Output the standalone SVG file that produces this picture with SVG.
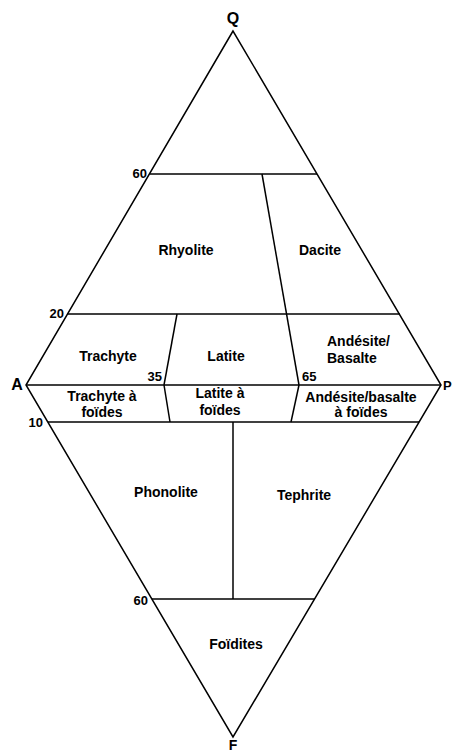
<svg xmlns="http://www.w3.org/2000/svg" width="452" height="753" viewBox="0 0 452 753">
<style>
.l{stroke:#000;stroke-width:1.5;fill:none}
.t{font-family:"Liberation Sans",Arial,sans-serif;font-weight:bold;font-size:14px;fill:#000;text-anchor:middle}
.n{font-family:"Liberation Sans",Arial,sans-serif;font-weight:bold;font-size:13px;fill:#000}
.v{font-family:"Liberation Sans",Arial,sans-serif;font-weight:bold;font-size:16px;fill:#000;text-anchor:middle}
.s{text-anchor:start}
.e{text-anchor:end}
</style>
<rect width="452" height="753" fill="#fff"/>
<g id="connectors">
<polygon class="l" points="233,31 26,385 233,737 441,385"/>
<line class="l" x1="26" y1="385" x2="441" y2="385"/>
<line class="l" x1="150" y1="174" x2="317" y2="174"/>
<line class="l" x1="67" y1="314" x2="400" y2="314"/>
<line class="l" x1="48" y1="422" x2="419" y2="422"/>
<line class="l" x1="152" y1="599" x2="315" y2="599"/>
<line class="l" x1="262" y1="174" x2="299" y2="385"/>
<line class="l" x1="299" y1="385" x2="291" y2="422"/>
<line class="l" x1="177" y1="314" x2="164" y2="385"/>
<line class="l" x1="164" y1="385" x2="170" y2="422"/>
<line class="l" x1="233" y1="422" x2="233" y2="599"/>
</g>
<g id="vertices">
<text class="v" x="233" y="24">Q</text>
<text class="v" x="17" y="390">A</text>
<text class="v s" x="443" y="390" style="font-size:13px">P</text>
<text class="v" x="233" y="750" style="font-size:14px">F</text>
</g>
<g id="ticks">
<text class="n e" x="147" y="178">60</text>
<text class="n e" x="64" y="318">20</text>
<text class="n e" x="162" y="381">35</text>
<text class="n" x="302" y="381">65</text>
<text class="n e" x="43" y="427">10</text>
<text class="n e" x="148" y="605">60</text>
</g>
<g id="rhyolite"><text class="t" x="186" y="255">Rhyolite</text></g>
<g id="dacite"><text class="t" x="320" y="255">Dacite</text></g>
<g id="trachyte"><text class="t" x="108" y="361">Trachyte</text></g>
<g id="latite"><text class="t" x="226" y="361">Latite</text></g>
<g id="andesite"><text class="t s" x="327" y="346">Andésite/</text><text class="t s" x="327" y="363">Basalte</text></g>
<g id="trachyte-foides"><text class="t" x="102" y="401">Trachyte à</text><text class="t" x="102" y="417">foïdes</text></g>
<g id="latite-foides"><text class="t" x="220" y="398">Latite à</text><text class="t" x="220" y="415">foïdes</text></g>
<g id="andesite-foides"><text class="t" x="361" y="402">Andésite/basalte</text><text class="t" x="361" y="417">à foïdes</text></g>
<g id="phonolite"><text class="t" x="166" y="497">Phonolite</text></g>
<g id="tephrite"><text class="t" x="304" y="500">Tephrite</text></g>
<g id="foidites"><text class="t" x="236" y="649">Foïdites</text></g>
</svg>
